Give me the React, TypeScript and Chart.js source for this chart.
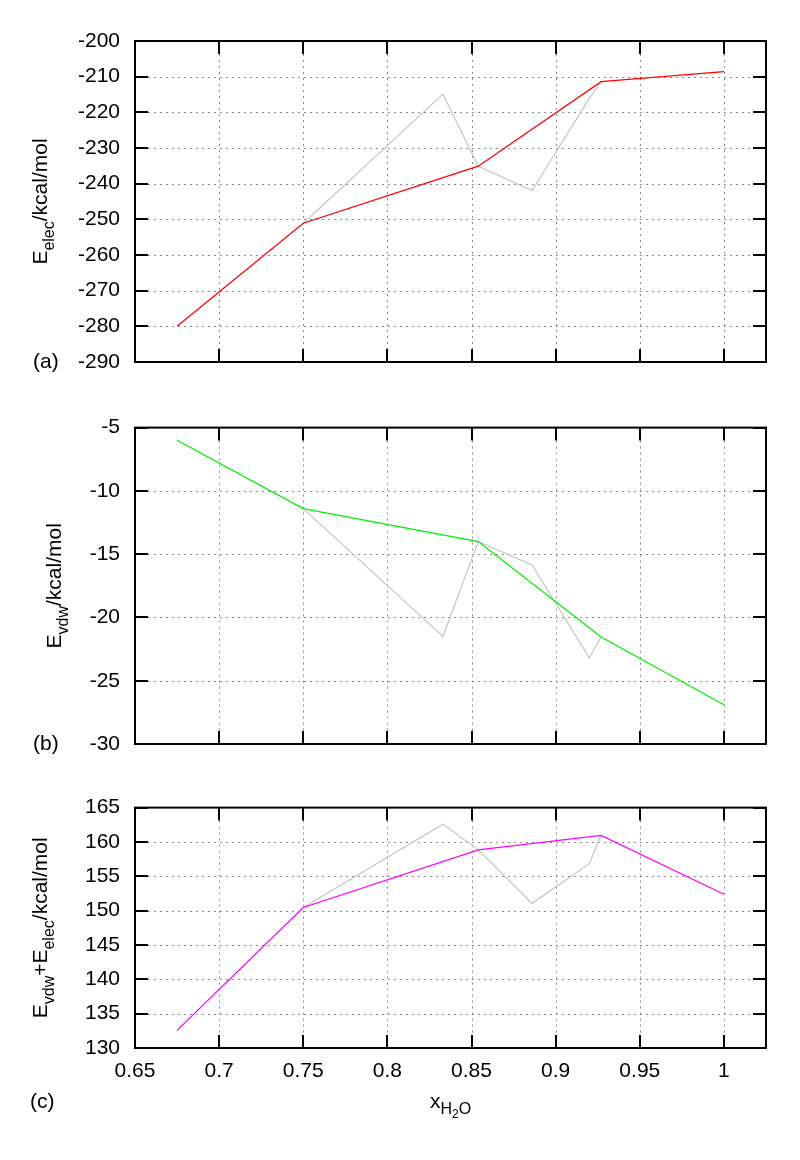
import { useEffect, useRef } from 'react';
import { Chart, registerables } from 'chart.js';

Chart.register(...registerables);

const FONT = "'Liberation Sans', Arial, Helvetica, sans-serif";
const FS = 21;

// x positions (mole fraction of water)
const xMain = [0.675, 0.75, 0.854, 0.927, 1.0];
const xGray = [0.75, 0.833, 0.854, 0.886, 0.92, 0.927];

// (a) electrostatic energy
const elecMain = [-280.0, -251.1, -235.1, -211.4, -208.6];
const elecGray = [-251.1, -214.9, -235.1, -241.9, -216.1, -211.4];
// (b) van der Waals energy
const vdwMain = [-6.0, -11.4, -14.0, -21.55, -26.9];
const vdwGray = [-11.4, -21.5, -14.0, -15.85, -23.2, -21.55];
// (c) sum
const sumMain = [132.57, 150.46, 158.85, 160.96, 152.39];
const sumGray = [150.46, 162.57, 158.85, 151.06, 156.83, 160.96];

// ticks
const xTicks = [0.65, 0.7, 0.75, 0.8, 0.85, 0.9, 0.95, 1];
const xTickLabels = ['0.65', '0.7', '0.75', '0.8', '0.85', '0.9', '0.95', '1'];
const elecTicks = [-290, -280, -270, -260, -250, -240, -230, -220, -210, -200];
const vdwTicks = [-30, -25, -20, -15, -10, -5];
const sumTicks = [130, 135, 140, 145, 150, 155, 160, 165];

const X_MIN = 0.65;
const X_MAX = 1.025;

type Seg = { t: string; size: number; dy: number };

function drawRich(ctx: CanvasRenderingContext2D, segs: Seg[], x: number, y: number, align: 'center' | 'left') {
  let total = 0;
  const widths: number[] = [];
  for (const s of segs) {
    ctx.font = `${s.size}px ${FONT}`;
    const w = ctx.measureText(s.t).width;
    widths.push(w);
    total += w;
  }
  let cx = align === 'center' ? x - total / 2 : x;
  segs.forEach((s, i) => {
    ctx.font = `${s.size}px ${FONT}`;
    ctx.fillText(s.t, cx, y + s.dy);
    cx += widths[i];
  });
}

type PanelCfg = {
  top: number;
  height: number;
  padTop: number;
  padBottom: number;
  showX: boolean;
  xAxisH: number;
  yMin: number;
  yMax: number;
  yTicks: number[];
  main: number[];
  gray: number[];
  color: string;
  title: Seg[];
  titleX: number;
  label: string;
  labelX: number;
  labelY: number | null;
};

const SUB = 16;
const SUBDY = 7;

const panels: PanelCfg[] = [
  {
    top: 0, height: 400, padTop: 41, padBottom: 38, showX: false, xAxisH: 0,
    yMin: -290, yMax: -200, yTicks: elecTicks, main: elecMain, gray: elecGray, color: '#ff0000',
    title: [
      { t: 'E', size: FS, dy: 0 },
      { t: 'elec', size: SUB, dy: SUBDY },
      { t: '/kcal/mol', size: FS, dy: 0 },
    ],
    titleX: 47, label: '(a)', labelX: 33, labelY: null,
  },
  {
    top: 400, height: 380, padTop: 24, padBottom: 36, showX: false, xAxisH: 0,
    yMin: -30, yMax: -5, yTicks: vdwTicks, main: vdwMain, gray: vdwGray, color: '#00f000',
    title: [
      { t: 'E', size: FS, dy: 0 },
      { t: 'vdw', size: SUB, dy: SUBDY },
      { t: '/kcal/mol', size: FS, dy: 0 },
    ],
    titleX: 61, label: '(b)', labelX: 33, labelY: null,
  },
  {
    top: 780, height: 380, padTop: 14, padBottom: 52, showX: true, xAxisH: 60,
    yMin: 130, yMax: 165, yTicks: sumTicks, main: sumMain, gray: sumGray, color: '#ff00ff',
    title: [
      { t: 'E', size: FS, dy: 0 },
      { t: 'vdw', size: SUB, dy: SUBDY },
      { t: '+E', size: FS, dy: 0 },
      { t: 'elec', size: SUB, dy: SUBDY },
      { t: '/kcal/mol', size: FS, dy: 0 },
    ],
    titleX: 47, label: '(c)', labelX: 30, labelY: 1108 - 780,
  },
];

const TL = 13;

function makePlugin(p: PanelCfg) {
  return {
    id: 'gnuplotLook',
    beforeDatasetsDraw(chart: any) {
      const { ctx, chartArea: a, scales } = chart;
      const xs = scales.x;
      const ys = scales.y;
      ctx.save();
      ctx.strokeStyle = '#8c8c8c';
      ctx.lineWidth = 1;
      ctx.setLineDash([2, 4]);
      for (const v of xTicks) {
        if (v <= X_MIN || v >= X_MAX) continue;
        const px = Math.round(xs.getPixelForValue(v)) + 0.5;
        ctx.beginPath();
        ctx.moveTo(px, a.top + TL);
        ctx.lineTo(px, a.bottom - TL);
        ctx.stroke();
      }
      for (const v of p.yTicks) {
        if (v <= p.yMin || v >= p.yMax) continue;
        const py = Math.round(ys.getPixelForValue(v)) + 0.5;
        ctx.beginPath();
        ctx.moveTo(a.left + TL, py);
        ctx.lineTo(a.right - TL, py);
        ctx.stroke();
      }
      ctx.restore();
    },
    afterDatasetsDraw(chart: any) {
      const { ctx, chartArea: a, scales } = chart;
      const xs = scales.x;
      const ys = scales.y;
      ctx.save();
      ctx.strokeStyle = '#000';
      ctx.lineWidth = 2;
      ctx.setLineDash([]);
      ctx.strokeRect(a.left, a.top, a.right - a.left, a.bottom - a.top);
      ctx.beginPath();
      for (const v of xTicks) {
        const px = Math.round(xs.getPixelForValue(v));
        ctx.moveTo(px, a.top);
        ctx.lineTo(px, a.top + TL);
        ctx.moveTo(px, a.bottom);
        ctx.lineTo(px, a.bottom - TL);
      }
      for (const v of p.yTicks) {
        const py = Math.round(ys.getPixelForValue(v));
        ctx.moveTo(a.left, py);
        ctx.lineTo(a.left + TL, py);
        ctx.moveTo(a.right, py);
        ctx.lineTo(a.right - TL, py);
      }
      ctx.stroke();
      ctx.restore();
    },
    afterDraw(chart: any) {
      const { ctx, chartArea: a } = chart;
      ctx.save();
      ctx.fillStyle = '#000';
      // y axis title, rotated
      ctx.save();
      ctx.translate(p.titleX, (a.top + a.bottom) / 2);
      ctx.rotate(-Math.PI / 2);
      ctx.textBaseline = 'alphabetic';
      ctx.textAlign = 'left';
      drawRich(ctx, p.title, 0, 0, 'center');
      ctx.restore();
      // panel label
      ctx.font = `${FS}px ${FONT}`;
      ctx.textAlign = 'left';
      if (p.labelY === null) {
        ctx.textBaseline = 'middle';
        ctx.fillText(p.label, p.labelX, a.bottom);
      } else {
        ctx.textBaseline = 'alphabetic';
        ctx.fillText(p.label, p.labelX, p.labelY);
      }
      // x title on the bottom panel
      if (p.showX) {
        ctx.textBaseline = 'alphabetic';
        const cx = (a.left + a.right) / 2;
        const base = 1108 - 780;
        drawRich(
          ctx,
          [
            { t: 'x', size: FS, dy: 0 },
            { t: 'H', size: 16, dy: 5.5 },
            { t: '2', size: 12, dy: 10 },
            { t: 'O', size: 16, dy: 5.5 },
          ],
          cx,
          base,
          'center'
        );
      }
      ctx.restore();
    },
  };
}

function Panel({ p }: { p: PanelCfg }) {
  const ref = useRef<HTMLCanvasElement | null>(null);
  useEffect(() => {
    if (!ref.current) return;
    const chart = new Chart(ref.current, {
      type: 'line',
      data: {
        datasets: [
          {
            data: xMain.map((x, i) => ({ x, y: p.main[i] })),
            borderColor: p.color,
            borderWidth: 1.3,
            pointRadius: 0,
            fill: false,
            tension: 0,
            order: 0,
          },
          {
            data: xGray.map((x, i) => ({ x, y: p.gray[i] })),
            borderColor: '#c4c4c4',
            borderWidth: 1.2,
            pointRadius: 0,
            fill: false,
            tension: 0,
            order: 1,
          },
        ],
      },
      options: {
        animation: false,
        responsive: false,
        maintainAspectRatio: false,
        devicePixelRatio: 1,
        layout: { padding: { top: p.padTop, bottom: p.padBottom, left: 0, right: 34 } },
        plugins: { legend: { display: false }, tooltip: { enabled: false } },
        scales: {
          x: {
            type: 'linear',
            min: X_MIN,
            max: X_MAX,
            display: p.showX,
            afterBuildTicks: (s: any) => {
              s.ticks = xTicks.map((v) => ({ value: v }));
            },
            afterFit: (s: any) => {
              if (p.showX) s.height = p.xAxisH;
            },
            ticks: {
              display: p.showX,
              color: '#000',
              padding: 11,
              maxRotation: 0,
              autoSkip: false,
              font: { family: FONT, size: FS },
              callback: (v: any) => {
                const i = xTicks.indexOf(Number(v));
                return i >= 0 ? xTickLabels[i] : '';
              },
            },
            grid: { display: false, drawTicks: false },
            border: { display: false },
          },
          y: {
            type: 'linear',
            min: p.yMin,
            max: p.yMax,
            afterBuildTicks: (s: any) => {
              s.ticks = p.yTicks.map((v) => ({ value: v }));
            },
            afterFit: (s: any) => {
              s.width = 135;
            },
            ticks: {
              color: '#000',
              padding: 15,
              autoSkip: false,
              font: { family: FONT, size: FS },
              callback: (v: any) => String(v),
            },
            grid: { display: false, drawTicks: false },
            border: { display: false },
          },
        },
      } as any,
      plugins: [makePlugin(p)],
    });
    return () => chart.destroy();
  }, [p]);
  return (
    <canvas
      ref={ref}
      width={800}
      height={p.height}
      style={{ position: 'absolute', left: 0, top: p.top, width: 800, height: p.height, display: 'block' }}
    />
  );
}

export default function App() {
  return (
    <div style={{ position: 'absolute', left: 0, top: 0, width: 800, height: 1160, background: '#fff' }}>
      {panels.map((p, i) => (
        <Panel key={i} p={p} />
      ))}
    </div>
  );
}
